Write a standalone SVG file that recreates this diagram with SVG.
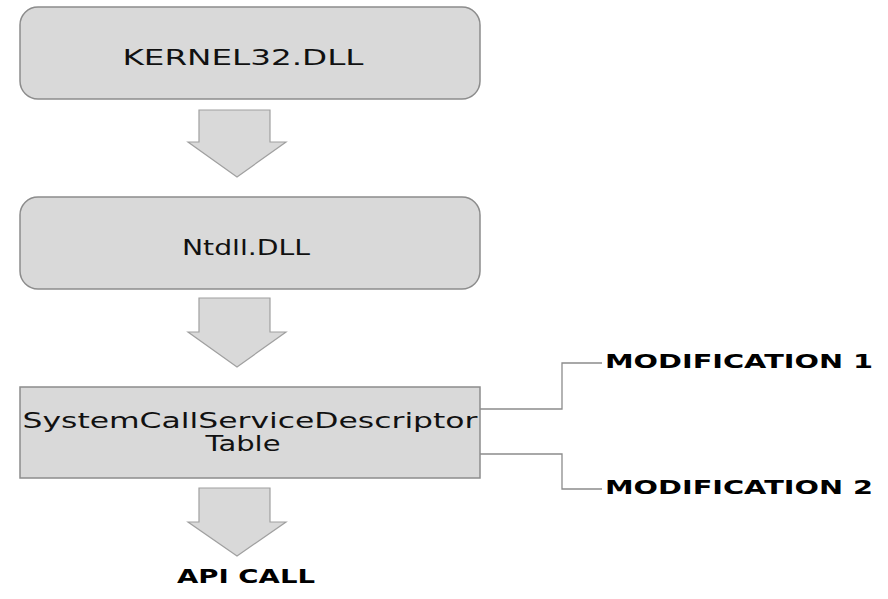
<svg xmlns="http://www.w3.org/2000/svg" width="888" height="599" viewBox="0 0 888 599">
<style>
.box{fill:#d9d9d9;stroke:#8c8c8c;stroke-width:1.5}
.arr{fill:#d9d9d9;stroke:#a0a0a0;stroke-width:1.2}
.t{font-family:"DejaVu Sans",sans-serif;font-size:21px;fill:#111;text-anchor:middle}
.b{font-family:"DejaVu Sans",sans-serif;font-weight:bold;font-size:20px;fill:#000}
.ln{fill:none;stroke:#8c8c8c;stroke-width:1.3}
</style>
<rect width="888" height="599" fill="#fff"/>
<g id="kernel32">
<rect class="box" x="20" y="7" width="460" height="92" rx="18"/>
<text class="t" x="243" y="65" textLength="241" lengthAdjust="spacingAndGlyphs">KERNEL32.DLL</text>
</g>
<g id="ntdll">
<rect class="box" x="20" y="197" width="460" height="92" rx="18"/>
<text class="t" x="246" y="255" textLength="128" lengthAdjust="spacingAndGlyphs">Ntdll.DLL</text>
</g>
<g id="ssdt">
<rect class="box" x="20" y="387" width="460" height="91"/>
<text class="t" x="250" y="428" textLength="455" lengthAdjust="spacingAndGlyphs">SystemCallServiceDescriptor</text>
<text class="t" x="243" y="451" textLength="75" lengthAdjust="spacingAndGlyphs">Table</text>
</g>
<g id="apicall">
<text class="b" x="177" y="583" textLength="138" lengthAdjust="spacingAndGlyphs">API CALL</text>
</g>
<g id="mod1">
<text class="b" x="605" y="368" textLength="268" lengthAdjust="spacingAndGlyphs">MODIFICATION 1</text>
</g>
<g id="mod2">
<text class="b" x="605" y="494" textLength="268" lengthAdjust="spacingAndGlyphs">MODIFICATION 2</text>
</g>
<g id="connectors">
<path class="arr" d="M199,110 H270 V142 H286 L237,177 L188,142 H199 Z"/>
<path class="arr" d="M199,298 H270 V332 H286 L237,367 L188,332 H199 Z"/>
<path class="arr" d="M199,488 H270 V522 H286 L237,556 L188,522 H199 Z"/>
<path class="ln" d="M480,409 H562 V363 H602"/>
<path class="ln" d="M480,454 H562 V489 H602"/>
</g>
</svg>
